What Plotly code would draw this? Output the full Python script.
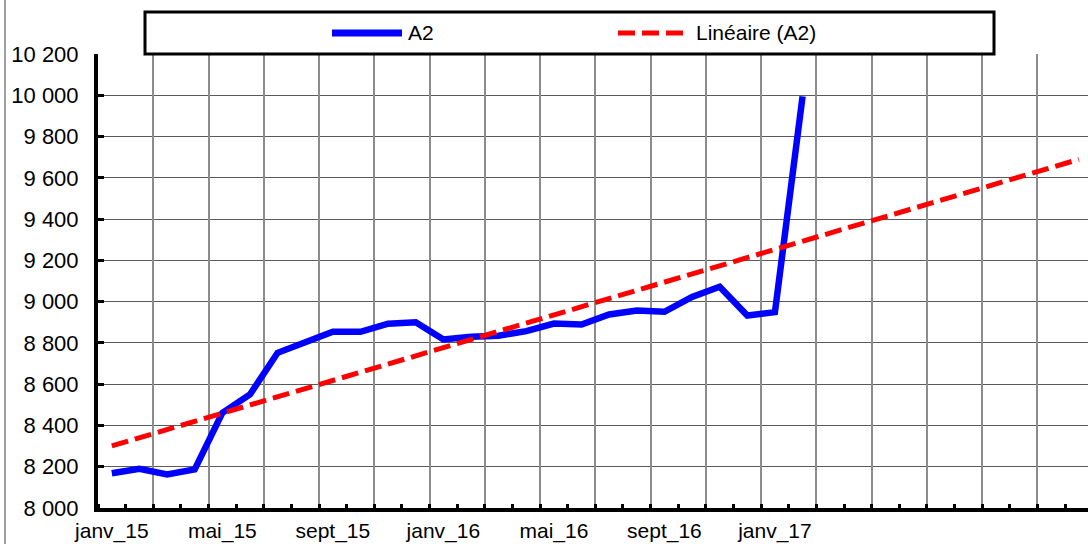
import numpy as np
import plotly.graph_objects as go

# Monthly series A2, janv_15 .. févr_17
months = ["janv_15", "févr_15", "mars_15", "avr_15", "mai_15", "juin_15", "juil_15",
          "août_15", "sept_15", "oct_15", "nov_15", "déc_15",
          "janv_16", "févr_16", "mars_16", "avr_16", "mai_16", "juin_16", "juil_16",
          "août_16", "sept_16", "oct_16", "nov_16", "déc_16",
          "janv_17", "févr_17"]
a2_values = [8168, 8190, 8163, 8187, 8461, 8550, 8752, 8803, 8854, 8854, 8893, 8900,
             8817, 8830, 8835, 8857, 8894, 8889, 8938, 8957, 8951, 9023, 9072, 8933,
             8949, 9995]
forecast_periods = 10          # trend extended forward
x_tick_labels = ["janv_15", "mai_15", "sept_15", "janv_16", "mai_16", "sept_16", "janv_17"]
y_ticks = list(range(8000, 10201, 200))

n = len(a2_values)
idx = np.arange(n)
slope, intercept = np.polyfit(idx, a2_values, 1)
trend_idx = np.arange(n + forecast_periods)
trend_vals = intercept + slope * trend_idx

FONT = "Liberation Sans, Arial, sans-serif"
W, H = 1088, 544
ML, MR, MT, MB = 98, 0, 54, 36
PW, PH = W - ML - MR, H - MT - MB
CAT_W = 27.63
x_max = -0.5 + PW / CAT_W


def px_x(p):
    return (p - ML) / PW


def px_y(p):
    return (H - MB - p) / PH


fig = go.Figure()
fig.add_trace(go.Scatter(
    x=idx, y=a2_values, mode="lines", name="A2",
    line=dict(color="#0000FF", width=6.5), showlegend=False, xaxis="x", yaxis="y"))
fig.add_trace(go.Scatter(
    x=trend_idx, y=trend_vals, mode="lines", name="Linéaire (A2)",
    line=dict(color="#FF0000", width=5, dash="17px,7px"), showlegend=False,
    xaxis="x2", yaxis="y"))

tick_pos = [months.index(t) if t in months else 4 * i for i, t in enumerate(x_tick_labels)]
grid_pos = [b + 0.5 for b in range(1, 36, 2)]

fig.update_layout(
    width=W, height=H,
    margin=dict(l=ML, r=MR, t=MT, b=MB, autoexpand=False),
    paper_bgcolor="white", plot_bgcolor="white",
    font=dict(family=FONT, size=21, color="black"),
    xaxis=dict(
        range=[-0.5, x_max], tickmode="array", tickvals=tick_pos, ticktext=x_tick_labels,
        ticks="", showgrid=False, zeroline=False, automargin=False,
        showline=True, linecolor="black", linewidth=4,
        ticklabelstandoff=1,
        minor=dict(tickmode="linear", tick0=-0.5, dtick=1, ticks="inside",
                   ticklen=4, tickwidth=3, tickcolor="black", showgrid=False),
        tickfont=dict(family=FONT, size=21, color="black"),
    ),
    xaxis2=dict(
        overlaying="x", matches="x", range=[-0.5, x_max], tickmode="array",
        tickvals=grid_pos, showticklabels=False, ticks="", showgrid=True,
        gridcolor="#8c8c8c", gridwidth=2, zeroline=False, showline=False,
        automargin=False,
    ),
    yaxis=dict(
        range=[8000, 10200], tickmode="array", tickvals=y_ticks,
        ticktext=[f"{v:,}".replace(",", " ") for v in y_ticks],
        ticks="inside", ticklen=6, tickwidth=3, tickcolor="black",
        showgrid=True, gridcolor="#5a5a5a", gridwidth=1, zeroline=False,
        showline=True, linecolor="black", linewidth=4, automargin=False,
        ticklabelstandoff=11,
        tickfont=dict(family=FONT, size=22, color="black"),
    ),
    shapes=[
        # outer frame edge
        dict(type="line", xref="paper", yref="paper", x0=px_x(5), x1=px_x(5),
             y0=px_y(0), y1=px_y(H), line=dict(color="#404040", width=1)),
        # legend box
        dict(type="rect", xref="paper", yref="paper", x0=px_x(145), x1=px_x(994),
             y0=px_y(54), y1=px_y(12), line=dict(color="black", width=3),
             fillcolor="white", layer="above"),
        dict(type="line", xref="paper", yref="paper", x0=px_x(332), x1=px_x(402),
             y0=px_y(33), y1=px_y(33), line=dict(color="#0000FF", width=7),
             layer="above"),
        dict(type="line", xref="paper", yref="paper", x0=px_x(618), x1=px_x(686),
             y0=px_y(33), y1=px_y(33), line=dict(color="#FF0000", width=5, dash="17px,7px"),
             layer="above"),
    ],
    annotations=[
        dict(text="A2", xref="paper", yref="paper", x=px_x(406), y=px_y(33),
             xanchor="left", yanchor="middle", showarrow=False,
             font=dict(family=FONT, size=21, color="black")),
        dict(text="Linéaire (A2)", xref="paper", yref="paper", x=px_x(694), y=px_y(33),
             xanchor="left", yanchor="middle", showarrow=False,
             font=dict(family=FONT, size=21, color="black")),
    ],
)

fig.write_html("out.html")
